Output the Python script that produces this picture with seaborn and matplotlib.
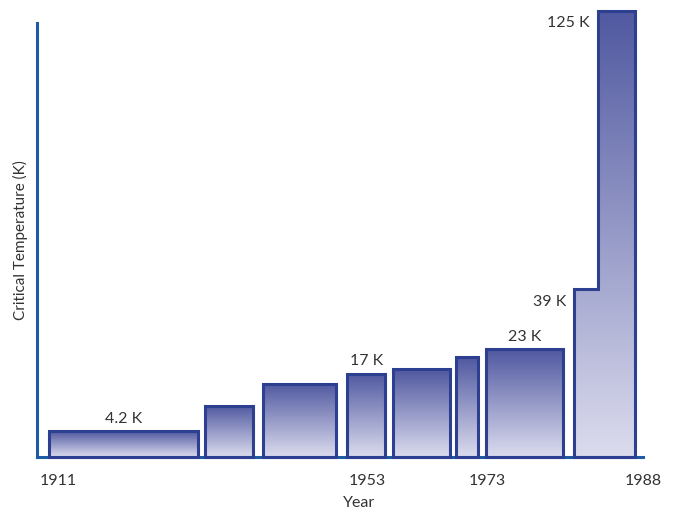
import numpy as np
import matplotlib
matplotlib.use("Agg")
import matplotlib.pyplot as plt
import seaborn as sns
from matplotlib.colors import LinearSegmentedColormap

# Record critical temperature reached in each era (kelvin)
tc_kelvin = [4.2, 9.5, 14.5, 17, 18, 21, 23, 39, 125]
# Extent of each era along a schematic timeline (0-100)
span_start = [1.95, 27.76, 37.33, 51.19, 58.71, 69.06, 74.06, 88.65, 92.62]
span_end = [26.5, 35.57, 49.37, 57.46, 68.12, 72.74, 86.83, 92.62, 98.71]
value_labels = ["4.2 K", "", "", "17 K", "", "", "23 K", "39 K", "125 K"]
year_ticks = [3.5, 54.5, 74.3, 100]
year_labels = ["1911", "1953", "1973", "1988"]

sns.set_theme(style="white")
plt.rcParams["font.family"] = ["Lato", "DejaVu Sans"]

TEXT = "#333333"
EDGE = "#2c3f91"
AXIS = "#1d5ba4"
grad_cmap = LinearSegmentedColormap.from_list("tc", ["#dcdcee", "#5058a0"])

fig = plt.figure(figsize=(6.74, 5.13), dpi=100)
ax = fig.add_axes([37 / 674, 56 / 513, 606 / 674, 449 / 513])

# Compressive power scale so the 125 K record fits with the early ones
EXP = 0.84
ax.set_yscale("function", functions=(
    lambda v: np.sign(v) * np.abs(v) ** EXP,
    lambda v: np.sign(v) * np.abs(v) ** (1 / EXP)))
ax.set_xlim(0, 100)
ax.set_ylim(0, 126)

# Group eras that adjoin into a single stepped block
groups = []
for i in range(len(tc_kelvin)):
    if groups and abs(span_end[groups[-1][-1]] - span_start[i]) < 1e-9:
        groups[-1].append(i)
    else:
        groups.append([i])

gradient = np.linspace(0, 1, 256).reshape(-1, 1)
to_axes = ax.transData + ax.transAxes.inverted()

for g in groups:
    xs = [span_start[i] for i in g] + [span_end[g[-1]]]
    ys = [tc_kelvin[i] for i in g] + [tc_kelvin[g[-1]]]
    block = ax.fill_between(xs, ys, 0, step="post", facecolor="none",
                            edgecolor=EDGE, linewidth=2.2, zorder=3,
                            joinstyle="miter", clip_on=False)
    (fx0, fy0), (fx1, fy1) = to_axes.transform(
        [[xs[0], 0], [xs[-1], max(ys)]])
    im = ax.imshow(gradient, cmap=grad_cmap, origin="lower", aspect="auto",
                   extent=[fx0, fx1, fy0, fy1], transform=ax.transAxes,
                   interpolation="bilinear", zorder=2)
    im.set_clip_path(block.get_paths()[0], block.get_transform())
    im.set_clip_box(fig.bbox)

    for i in g:
        if not value_labels[i]:
            continue
        if len(g) > 1:
            ax.annotate(value_labels[i], (span_start[i], tc_kelvin[i]),
                        xytext=(-6, -9), textcoords="offset points",
                        ha="right", va="center", fontsize=11.5, color=TEXT)
        else:
            ax.annotate(value_labels[i],
                        ((span_start[i] + span_end[i]) / 2, tc_kelvin[i]),
                        xytext=(0, 9), textcoords="offset points",
                        ha="center", va="center", fontsize=11.5, color=TEXT)

ax.set_xlim(0, 100)
ax.set_ylim(0, 126)

sns.despine(ax=ax, top=True, right=True)
for side in ("left", "bottom"):
    ax.spines[side].set_color(AXIS)
    ax.spines[side].set_linewidth(2.2)
ax.spines["left"].set_bounds(0, 121)

ax.set_yticks([])
ax.set_xticks(year_ticks, year_labels)
ax.tick_params(axis="x", length=0, pad=12, labelsize=11.5, labelcolor=TEXT)

ax.set_xlabel("Year", fontsize=11.5, color=TEXT, va="center")
ax.xaxis.set_label_coords((359 - 37) / 606, (457 - 503) / 449)
ax.set_ylabel("Critical Temperature (K)", fontsize=11, color=TEXT,
              va="center")
ax.yaxis.set_label_coords((20 - 37) / 606, (457 - 240) / 449)

fig.savefig("out.png", dpi=100)
